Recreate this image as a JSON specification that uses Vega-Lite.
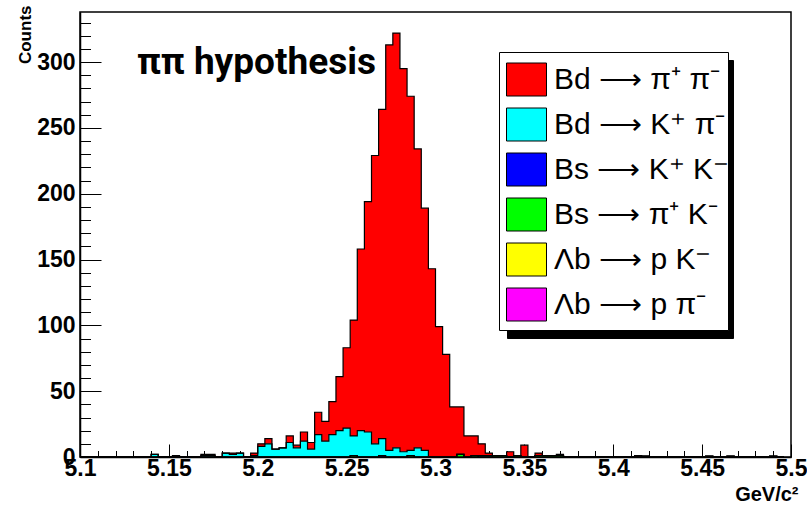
{
  "$schema": "https://vega.github.io/schema/vega-lite/v6.json",
  "autosize": "none",
  "width": 711,
  "height": 445,
  "padding": {"left": 80, "top": 12, "right": 16, "bottom": 49},
  "background": "white",
  "config": {
    "view": {"stroke": "black", "strokeWidth": 1.5},
    "font": "Liberation Sans"
  },
  "datasets": {
    "modes": [
      {"mode": "pp", "rank": 6, "label": "Bd ⟶ π⁺ π⁻"},
      {"mode": "kp", "rank": 5, "label": "Bd ⟶ K⁺ π⁻"},
      {"mode": "kk", "rank": 4, "label": "Bs ⟶ K⁺ K⁻"},
      {"mode": "pk", "rank": 3, "label": "Bs ⟶ π⁺ K⁻"},
      {"mode": "lk", "rank": 2, "label": "Λb ⟶ p K⁻"},
      {"mode": "lp", "rank": 1, "label": "Λb ⟶ p π⁻"}
    ],
    "hist": [
      {"lo": 5.100, "pp": 0, "kp": 0, "kk": 0, "pk": 0, "lk": 0, "lp": 0},
      {"lo": 5.104, "pp": 0, "kp": 0, "kk": 0, "pk": 0, "lk": 0, "lp": 0},
      {"lo": 5.108, "pp": 0, "kp": 0, "kk": 0, "pk": 0, "lk": 0, "lp": 0},
      {"lo": 5.112, "pp": 0, "kp": 0, "kk": 0, "pk": 0, "lk": 0, "lp": 0},
      {"lo": 5.116, "pp": 0, "kp": 0, "kk": 0, "pk": 0, "lk": 0, "lp": 0},
      {"lo": 5.120, "pp": 0, "kp": 0, "kk": 0, "pk": 0, "lk": 0, "lp": 0},
      {"lo": 5.124, "pp": 0, "kp": 0, "kk": 0, "pk": 0, "lk": 0, "lp": 0},
      {"lo": 5.128, "pp": 0, "kp": 0, "kk": 0, "pk": 0, "lk": 0, "lp": 0},
      {"lo": 5.132, "pp": 0, "kp": 0, "kk": 0, "pk": 0, "lk": 0, "lp": 0},
      {"lo": 5.136, "pp": 0, "kp": 0, "kk": 0, "pk": 0, "lk": 0, "lp": 0},
      {"lo": 5.140, "pp": 0, "kp": 2, "kk": 0, "pk": 0, "lk": 0, "lp": 0},
      {"lo": 5.144, "pp": 0, "kp": 0, "kk": 0, "pk": 0, "lk": 0, "lp": 0},
      {"lo": 5.148, "pp": 0, "kp": 0, "kk": 0, "pk": 0, "lk": 0, "lp": 0},
      {"lo": 5.152, "pp": 1, "kp": 0, "kk": 0, "pk": 0, "lk": 0, "lp": 0},
      {"lo": 5.156, "pp": 0, "kp": 0, "kk": 0, "pk": 0, "lk": 0, "lp": 0},
      {"lo": 5.160, "pp": 0, "kp": 0, "kk": 0, "pk": 0, "lk": 0, "lp": 0},
      {"lo": 5.164, "pp": 0, "kp": 0, "kk": 0, "pk": 0, "lk": 0, "lp": 0},
      {"lo": 5.168, "pp": 1, "kp": 1, "kk": 0, "pk": 0, "lk": 0, "lp": 0},
      {"lo": 5.172, "pp": 1, "kp": 1, "kk": 0, "pk": 0, "lk": 0, "lp": 0},
      {"lo": 5.176, "pp": 0, "kp": 0, "kk": 0, "pk": 0, "lk": 0, "lp": 0},
      {"lo": 5.180, "pp": 0, "kp": 3, "kk": 0, "pk": 0, "lk": 0, "lp": 0},
      {"lo": 5.184, "pp": 1, "kp": 2, "kk": 0, "pk": 0, "lk": 0, "lp": 0},
      {"lo": 5.188, "pp": 0, "kp": 3, "kk": 0, "pk": 0, "lk": 0, "lp": 0},
      {"lo": 5.192, "pp": 0, "kp": 0, "kk": 0, "pk": 0, "lk": 0, "lp": 0},
      {"lo": 5.196, "pp": 2, "kp": 1, "kk": 0, "pk": 0, "lk": 0, "lp": 0},
      {"lo": 5.200, "pp": 2, "kp": 8, "kk": 0, "pk": 0, "lk": 0, "lp": 0},
      {"lo": 5.204, "pp": 4, "kp": 10, "kk": 0, "pk": 0, "lk": 0, "lp": 0},
      {"lo": 5.208, "pp": 0, "kp": 6, "kk": 0, "pk": 0, "lk": 0, "lp": 0},
      {"lo": 5.212, "pp": 0, "kp": 7, "kk": 0, "pk": 0, "lk": 0, "lp": 0},
      {"lo": 5.216, "pp": 5, "kp": 11, "kk": 0, "pk": 0, "lk": 0, "lp": 0},
      {"lo": 5.220, "pp": 2, "kp": 7, "kk": 0, "pk": 0, "lk": 0, "lp": 0},
      {"lo": 5.224, "pp": 7, "kp": 12, "kk": 0, "pk": 0, "lk": 0, "lp": 0},
      {"lo": 5.228, "pp": 5, "kp": 6, "kk": 0, "pk": 0, "lk": 0, "lp": 0},
      {"lo": 5.232, "pp": 17, "kp": 17, "kk": 0, "pk": 0, "lk": 0, "lp": 0},
      {"lo": 5.236, "pp": 15, "kp": 12, "kk": 0, "pk": 0, "lk": 0, "lp": 0},
      {"lo": 5.240, "pp": 25, "kp": 17, "kk": 0, "pk": 0, "lk": 0, "lp": 0},
      {"lo": 5.244, "pp": 41, "kp": 20, "kk": 0, "pk": 0, "lk": 0, "lp": 0},
      {"lo": 5.248, "pp": 61, "kp": 22, "kk": 0, "pk": 0, "lk": 0, "lp": 0},
      {"lo": 5.252, "pp": 88, "kp": 15, "kk": 0, "pk": 1, "lk": 0, "lp": 0},
      {"lo": 5.256, "pp": 138, "kp": 20, "kk": 0, "pk": 0, "lk": 0, "lp": 0},
      {"lo": 5.260, "pp": 175, "kp": 19, "kk": 0, "pk": 0, "lk": 0, "lp": 0},
      {"lo": 5.264, "pp": 219, "kp": 10, "kk": 0, "pk": 0, "lk": 0, "lp": 0},
      {"lo": 5.268, "pp": 250, "kp": 13, "kk": 1, "pk": 0, "lk": 0, "lp": 0},
      {"lo": 5.272, "pp": 308, "kp": 5, "kk": 0, "pk": 0, "lk": 0, "lp": 0},
      {"lo": 5.276, "pp": 315, "kp": 7, "kk": 0, "pk": 0, "lk": 0, "lp": 0},
      {"lo": 5.280, "pp": 291, "kp": 4, "kk": 0, "pk": 0, "lk": 0, "lp": 0},
      {"lo": 5.284, "pp": 269, "kp": 4, "kk": 0, "pk": 1, "lk": 0, "lp": 0},
      {"lo": 5.288, "pp": 227, "kp": 7, "kk": 0, "pk": 0, "lk": 0, "lp": 0},
      {"lo": 5.292, "pp": 184, "kp": 5, "kk": 0, "pk": 0, "lk": 0, "lp": 0},
      {"lo": 5.296, "pp": 143, "kp": 0, "kk": 0, "pk": 0, "lk": 0, "lp": 0},
      {"lo": 5.300, "pp": 99, "kp": 0, "kk": 0, "pk": 0, "lk": 0, "lp": 0},
      {"lo": 5.304, "pp": 78, "kp": 0, "kk": 0, "pk": 0, "lk": 0, "lp": 0},
      {"lo": 5.308, "pp": 38, "kp": 0, "kk": 0, "pk": 0, "lk": 0, "lp": 0},
      {"lo": 5.312, "pp": 36, "kp": 0, "kk": 0, "pk": 2, "lk": 0, "lp": 0},
      {"lo": 5.316, "pp": 16, "kp": 0, "kk": 0, "pk": 0, "lk": 0, "lp": 0},
      {"lo": 5.320, "pp": 15, "kp": 0, "kk": 0, "pk": 1, "lk": 0, "lp": 0},
      {"lo": 5.324, "pp": 9, "kp": 1, "kk": 0, "pk": 0, "lk": 0, "lp": 0},
      {"lo": 5.328, "pp": 2, "kp": 1, "kk": 0, "pk": 0, "lk": 0, "lp": 0},
      {"lo": 5.332, "pp": 0, "kp": 0, "kk": 0, "pk": 1, "lk": 0, "lp": 0},
      {"lo": 5.336, "pp": 0, "kp": 0, "kk": 0, "pk": 1, "lk": 0, "lp": 0},
      {"lo": 5.340, "pp": 4, "kp": 0, "kk": 0, "pk": 0, "lk": 0, "lp": 0},
      {"lo": 5.344, "pp": 0, "kp": 0, "kk": 0, "pk": 1, "lk": 0, "lp": 0},
      {"lo": 5.348, "pp": 9, "kp": 0, "kk": 0, "pk": 0, "lk": 0, "lp": 0},
      {"lo": 5.352, "pp": 0, "kp": 0, "kk": 0, "pk": 0, "lk": 0, "lp": 0},
      {"lo": 5.356, "pp": 2, "kp": 0, "kk": 0, "pk": 1, "lk": 0, "lp": 0},
      {"lo": 5.360, "pp": 0, "kp": 0, "kk": 0, "pk": 1, "lk": 0, "lp": 0},
      {"lo": 5.364, "pp": 0, "kp": 0, "kk": 0, "pk": 1, "lk": 0, "lp": 0},
      {"lo": 5.368, "pp": 1, "kp": 0, "kk": 0, "pk": 1, "lk": 0, "lp": 0},
      {"lo": 5.372, "pp": 0, "kp": 0, "kk": 0, "pk": 0, "lk": 0, "lp": 0},
      {"lo": 5.376, "pp": 0, "kp": 0, "kk": 0, "pk": 0, "lk": 0, "lp": 0},
      {"lo": 5.380, "pp": 0, "kp": 0, "kk": 0, "pk": 0, "lk": 0, "lp": 0},
      {"lo": 5.384, "pp": 0, "kp": 0, "kk": 0, "pk": 0, "lk": 0, "lp": 0},
      {"lo": 5.388, "pp": 0, "kp": 0, "kk": 0, "pk": 0, "lk": 0, "lp": 0},
      {"lo": 5.392, "pp": 0, "kp": 0, "kk": 0, "pk": 0, "lk": 0, "lp": 0},
      {"lo": 5.396, "pp": 0, "kp": 0, "kk": 0, "pk": 0, "lk": 0, "lp": 0},
      {"lo": 5.400, "pp": 0, "kp": 0, "kk": 0, "pk": 0, "lk": 0, "lp": 0},
      {"lo": 5.404, "pp": 0, "kp": 0, "kk": 0, "pk": 0, "lk": 0, "lp": 0},
      {"lo": 5.408, "pp": 0, "kp": 0, "kk": 0, "pk": 0, "lk": 0, "lp": 0},
      {"lo": 5.412, "pp": 1, "kp": 0, "kk": 0, "pk": 0, "lk": 0, "lp": 0},
      {"lo": 5.416, "pp": 0, "kp": 0, "kk": 0, "pk": 0, "lk": 0, "lp": 0.5},
      {"lo": 5.420, "pp": 0, "kp": 0, "kk": 0, "pk": 0, "lk": 0, "lp": 0},
      {"lo": 5.424, "pp": 0, "kp": 0, "kk": 0, "pk": 0, "lk": 0, "lp": 0},
      {"lo": 5.428, "pp": 0, "kp": 0, "kk": 0, "pk": 0, "lk": 0, "lp": 0},
      {"lo": 5.432, "pp": 0, "kp": 0, "kk": 0, "pk": 0, "lk": 0, "lp": 0},
      {"lo": 5.436, "pp": 0, "kp": 0, "kk": 0, "pk": 0, "lk": 0, "lp": 0},
      {"lo": 5.440, "pp": 0, "kp": 0, "kk": 0, "pk": 0, "lk": 0, "lp": 0},
      {"lo": 5.444, "pp": 0, "kp": 0, "kk": 0, "pk": 0, "lk": 0, "lp": 0},
      {"lo": 5.448, "pp": 0, "kp": 0, "kk": 0, "pk": 0, "lk": 0, "lp": 0},
      {"lo": 5.452, "pp": 0, "kp": 0, "kk": 0, "pk": 0, "lk": 0, "lp": 0.5},
      {"lo": 5.456, "pp": 0, "kp": 0, "kk": 0, "pk": 0, "lk": 0, "lp": 0},
      {"lo": 5.460, "pp": 0, "kp": 0, "kk": 0, "pk": 0, "lk": 0, "lp": 0},
      {"lo": 5.464, "pp": 0, "kp": 0, "kk": 0, "pk": 0, "lk": 0, "lp": 0.5},
      {"lo": 5.468, "pp": 0, "kp": 0, "kk": 0, "pk": 0, "lk": 0, "lp": 0},
      {"lo": 5.472, "pp": 0, "kp": 0, "kk": 0, "pk": 0, "lk": 0, "lp": 0},
      {"lo": 5.476, "pp": 0, "kp": 0, "kk": 0, "pk": 0, "lk": 0, "lp": 0},
      {"lo": 5.480, "pp": 0, "kp": 0, "kk": 0, "pk": 0, "lk": 0, "lp": 0},
      {"lo": 5.484, "pp": 0, "kp": 0, "kk": 0, "pk": 0, "lk": 0, "lp": 0},
      {"lo": 5.488, "pp": 0, "kp": 0, "kk": 0, "pk": 0, "lk": 0, "lp": 0.5},
      {"lo": 5.492, "pp": 0, "kp": 0, "kk": 0, "pk": 0, "lk": 0, "lp": 0},
      {"lo": 5.496, "pp": 0, "kp": 0, "kk": 0, "pk": 0, "lk": 0, "lp": 0}
    ]
  },
  "layer": [
    {
      "data": {"name": "hist"},
      "transform": [
        {"fold": ["pp", "kp", "kk", "pk", "lk", "lp"], "as": ["mode", "n"]},
        {"lookup": "mode", "from": {"data": {"name": "modes"}, "key": "mode", "fields": ["rank", "label"]}},
        {"stack": "n", "groupby": ["lo"], "sort": [{"field": "rank", "order": "ascending"}], "as": ["y0", "y1"]}
      ],
      "layer": [
        {
          "mark": {"type": "area", "interpolate": "step-after"},
          "encoding": {
            "x": {
              "field": "lo", "type": "quantitative",
              "scale": {"domain": [5.1, 5.5], "nice": false, "zero": false},
              "axis": {
                "values": [5.1, 5.11, 5.12, 5.13, 5.14, 5.15, 5.16, 5.17, 5.18, 5.19, 5.2, 5.21, 5.22, 5.23, 5.24, 5.25, 5.26, 5.27, 5.28, 5.29, 5.3, 5.31, 5.32, 5.33, 5.34, 5.35, 5.36, 5.37, 5.38, 5.39, 5.4, 5.41, 5.42, 5.43, 5.44, 5.45, 5.46, 5.47, 5.48, 5.49, 5.5],
                "tickCount": 1000,
                "format": "~g",
                "labelExpr": "round(datum.value * 100) % 5 === 0 ? datum.label : ''",
                "labelOverlap": false,
                "labelBound": false,
                "labelFlush": false,
                "labelFont": "Liberation Sans",
                "labelFontWeight": "bold",
                "labelFontSize": 23,
                "labelColor": "black",
                "labelPadding": 13,
                "tickColor": "black",
                "tickWidth": 1,
                "tickSize": {"condition": {"test": "round(datum.value * 100) % 5 === 0", "value": -13}, "value": -6.5},
                "domainColor": "black",
                "domainWidth": 1.5,
                "grid": false,
                "title": "GeV/c²",
                "titleFont": "Liberation Sans",
                "titleFontWeight": "bold",
                "titleFontSize": 20,
                "titleColor": "black",
                "titleAnchor": "end",
                "titleAlign": "right",
                "titleBaseline": "alphabetic",
                "titleX": 718,
                "titleY": 43
              }
            },
            "y": {
              "field": "y1", "type": "quantitative",
              "scale": {"domain": [0, 338], "nice": false},
              "axis": {
                "values": [0, 10, 20, 30, 40, 50, 60, 70, 80, 90, 100, 110, 120, 130, 140, 150, 160, 170, 180, 190, 200, 210, 220, 230, 240, 250, 260, 270, 280, 290, 300, 310, 320, 330],
                "tickCount": 1000,
                "format": "d",
                "labelExpr": "datum.value % 50 === 0 ? datum.label : ''",
                "labelOverlap": false,
                "labelBound": false,
                "labelFlush": false,
                "labelFont": "Liberation Sans",
                "labelFontWeight": "bold",
                "labelFontSize": 23,
                "labelColor": "black",
                "labelPadding": 26,
                "tickColor": "black",
                "tickWidth": 1,
                "tickSize": {"condition": {"test": "datum.value % 50 === 0", "value": -21}, "value": -10.5},
                "domainColor": "black",
                "domainWidth": 1.5,
                "grid": false,
                "title": "Counts",
                "titleFont": "Liberation Sans",
                "titleFontWeight": "bold",
                "titleFontSize": 17,
                "titleColor": "black",
                "titleAnchor": "end",
                "titleAngle": -90,
                "titleAlign": "right",
                "titleBaseline": "alphabetic",
                "titleX": -50,
                "titleY": -7
              }
            },
            "y2": {"field": "y0"},
            "color": {
              "field": "label", "type": "nominal",
              "scale": {
                "domain": ["Bd ⟶ π⁺ π⁻", "Bd ⟶ K⁺ π⁻", "Bs ⟶ K⁺ K⁻", "Bs ⟶ π⁺ K⁻", "Λb ⟶ p K⁻", "Λb ⟶ p π⁻"],
                "range": ["#ff0000", "#00ffff", "#0000ff", "#00ff00", "#ffff00", "#ff00ff"]
              },
              "legend": {
                "orient": "none",
                "legendX": 419,
                "legendY": 40,
                "zindex": 2,
                "title": null,
                "direction": "vertical",
                "fillColor": "white",
                "strokeColor": "black",
                "padding": 7,
                "symbolType": "M-1,-0.825H1V0.825H-1Z",
                "symbolSize": 1600,
                "symbolStrokeColor": "black",
                "symbolStrokeWidth": 1,
                "symbolOpacity": 1,
                "labelFont": "Liberation Sans",
                "labelFontSize": 30,
                "labelColor": "black",
                "labelOffset": 7,
                "labelLimit": 300,
                "rowPadding": 6
              }
            }
          }
        },
        {
          "mark": {"type": "line", "interpolate": "step-after", "strokeWidth": 1.2},
          "encoding": {
            "x": {"field": "lo", "type": "quantitative"},
            "y": {"field": "y1", "type": "quantitative"},
            "detail": {"field": "mode"},
            "stroke": {
              "field": "label", "type": "nominal",
              "scale": {
                "domain": ["Λb ⟶ p π⁻", "Λb ⟶ p K⁻", "Bs ⟶ π⁺ K⁻", "Bs ⟶ K⁺ K⁻", "Bd ⟶ K⁺ π⁻", "Bd ⟶ π⁺ π⁻"],
                "range": ["black", "black", "black", "black", "black", "black"]
              },
              "legend": {
                "orient": "none",
                "legendX": 427,
                "legendY": 48,
                "zindex": 1,
                "title": null,
                "direction": "vertical",
                "fillColor": "black",
                "strokeColor": "black",
                "padding": 7,
                "symbolType": "M-1,-0.825H9.45V0.825H-1Z",
                "symbolSize": 1600,
                "symbolFillColor": "black",
                "symbolStrokeColor": "black",
                "symbolStrokeWidth": 1,
                "labelExpr": "''",
                "labelOffset": 7,
                "rowPadding": 6
              }
            }
          }
        }
      ]
    },
    {
      "data": {"values": [{}]},
      "mark": {"type": "text", "text": "ππ hypothesis", "font": "Roboto", "fontWeight": "bold", "fontSize": 37, "align": "left", "baseline": "alphabetic", "color": "black"},
      "encoding": {
        "x": {"datum": 5.132, "type": "quantitative"},
        "y": {"datum": 290.7, "type": "quantitative"}
      }
    }
  ]
}
